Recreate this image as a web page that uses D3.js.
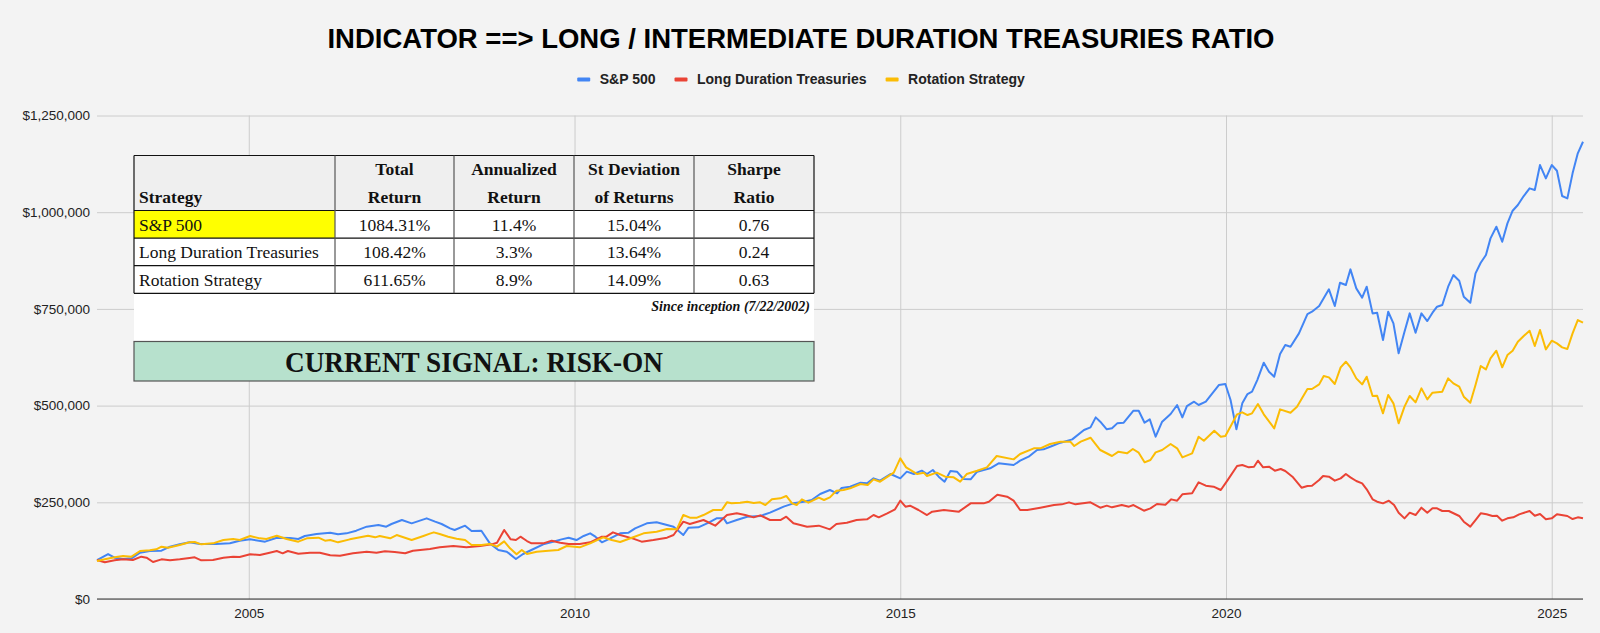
<!DOCTYPE html>
<html lang="en">
<head>
    <meta charset="UTF-8"/>
    <title>Long / Intermediate Duration Treasuries Ratio</title>
    <script src="https://d3js.org/d3.v7.min.js"></script>
    <style>
        body {
            margin: 0;
            background: #f3f3f3;
        }
    </style>
</head>
<body>
<svg id="chart" width="1600" height="633"></svg>

<script>
    const sans = "'Liberation Sans', Arial, sans-serif";
    const serif = "'Liberation Serif', 'Times New Roman', serif";

    const seriesNames = ["S&P 500", "Long Duration Treasuries", "Rotation Strategy"];
    const seriesColors = ["#4285f4", "#ea4335", "#fbbc04"];

    // [year, portfolio value in $ thousands]
    const sp500 = [
        [2002.67, 100.8], [2002.84, 116.3], [2002.94, 106.8], [2003.07, 103.4], [2003.20, 105.1], [2003.33, 119.8],
        [2003.48, 124.1], [2003.66, 124.9], [2003.79, 135.3], [2003.94, 141.3], [2004.09, 146.5], [2004.25, 142.2],
        [2004.50, 142.2], [2004.71, 143.9], [2004.86, 150.8], [2005.02, 154.2], [2005.25, 148.2], [2005.43, 158.5],
        [2005.63, 157.7], [2005.76, 155.1], [2005.86, 162.9], [2006.04, 168.0], [2006.25, 171.5], [2006.37, 167.2],
        [2006.50, 169.7], [2006.65, 176.6], [2006.81, 187.0], [2006.99, 191.3], [2007.11, 187.0], [2007.19, 193.9],
        [2007.35, 204.2], [2007.50, 195.6], [2007.73, 208.5], [2007.86, 199.9], [2007.96, 193.9], [2008.09, 182.7],
        [2008.16, 178.4], [2008.32, 189.6], [2008.42, 175.8], [2008.57, 176.6], [2008.70, 143.9], [2008.83, 126.7],
        [2008.96, 122.4], [2009.10, 103.4], [2009.21, 116.3], [2009.37, 129.3], [2009.52, 141.3], [2009.67, 148.2],
        [2009.80, 154.2], [2009.91, 158.5], [2010.03, 152.5], [2010.14, 162.9], [2010.24, 169.7], [2010.32, 161.1],
        [2010.42, 146.5], [2010.55, 156.8], [2010.70, 169.7], [2010.83, 171.5], [2010.93, 182.7], [2011.11, 195.6],
        [2011.26, 198.2], [2011.42, 191.3], [2011.52, 187.0], [2011.67, 165.4], [2011.75, 184.4], [2011.90, 185.3],
        [2012.06, 197.3], [2012.18, 208.5], [2012.29, 208.5], [2012.34, 195.6], [2012.49, 204.2], [2012.65, 212.8],
        [2012.85, 214.6], [2013.00, 223.2], [2013.21, 238.7], [2013.36, 247.3], [2013.52, 251.6], [2013.64, 255.9],
        [2013.77, 271.4], [2013.92, 281.8], [2014.03, 273.2], [2014.10, 286.9], [2014.23, 290.4], [2014.39, 300.7],
        [2014.49, 299.0], [2014.59, 311.9], [2014.69, 305.9], [2014.85, 323.1], [2015.00, 311.9], [2015.10, 329.2],
        [2015.21, 323.1], [2015.33, 331.7], [2015.41, 323.1], [2015.50, 333.5], [2015.59, 316.2], [2015.68, 303.3],
        [2015.77, 330.9], [2015.87, 329.2], [2015.97, 310.2], [2016.08, 309.3], [2016.18, 329.2], [2016.38, 337.8],
        [2016.51, 350.7], [2016.74, 346.4], [2016.84, 357.6], [2016.97, 367.9], [2017.10, 385.2], [2017.20, 386.9],
        [2017.33, 395.5], [2017.46, 404.1], [2017.64, 412.7], [2017.82, 436.9], [2017.92, 443.8], [2018.00, 469.6],
        [2018.07, 458.4], [2018.17, 438.6], [2018.25, 441.2], [2018.33, 454.1], [2018.43, 455.8], [2018.58, 486.8],
        [2018.66, 486.8], [2018.75, 455.8], [2018.83, 464.4], [2018.92, 419.6], [2019.02, 458.4], [2019.15, 478.2],
        [2019.25, 501.5], [2019.33, 469.6], [2019.40, 498.9], [2019.51, 510.1], [2019.58, 501.5], [2019.69, 510.1],
        [2019.79, 531.6], [2019.89, 553.2], [2019.99, 555.8], [2020.07, 514.4], [2020.16, 438.6], [2020.25, 505.8],
        [2020.33, 529.9], [2020.40, 535.9], [2020.48, 566.1], [2020.58, 610.9], [2020.66, 587.7], [2020.74, 574.7],
        [2020.83, 633.3], [2020.91, 656.6], [2020.99, 652.3], [2021.12, 686.8], [2021.25, 736.7], [2021.32, 742.7],
        [2021.43, 757.4], [2021.58, 800.5], [2021.67, 757.4], [2021.75, 817.7], [2021.84, 811.7], [2021.91, 852.2],
        [2022.00, 803.1], [2022.09, 779.0], [2022.16, 807.4], [2022.25, 738.4], [2022.32, 740.2], [2022.41, 669.5],
        [2022.49, 742.7], [2022.57, 712.6], [2022.65, 635.1], [2022.74, 691.1], [2022.82, 738.4], [2022.91, 688.5],
        [2023.00, 738.4], [2023.09, 718.6], [2023.17, 740.2], [2023.24, 755.7], [2023.32, 760.0], [2023.41, 807.4],
        [2023.49, 837.5], [2023.58, 822.9], [2023.65, 781.5], [2023.75, 766.0], [2023.83, 841.9], [2023.91, 869.4],
        [2023.99, 889.2], [2024.06, 932.3], [2024.15, 962.5], [2024.24, 923.7], [2024.32, 971.1], [2024.40, 1003.8],
        [2024.48, 1018.5], [2024.57, 1041.8], [2024.66, 1061.6], [2024.74, 1057.3], [2024.82, 1121.9], [2024.91, 1087.4],
        [2025.00, 1121.9], [2025.08, 1107.2], [2025.16, 1041.8], [2025.24, 1035.7], [2025.32, 1100.4], [2025.40, 1152.1],
        [2025.48, 1182.2]
    ];

    const longTreasuries = [
        [2002.67, 100.8], [2002.79, 94.8], [2002.94, 100.0], [2003.07, 102.5], [2003.22, 100.8], [2003.35, 109.4],
        [2003.43, 106.8], [2003.53, 95.6], [2003.66, 102.5], [2003.79, 100.0], [2003.94, 102.5], [2004.09, 106.0],
        [2004.17, 107.7], [2004.27, 100.0], [2004.45, 100.8], [2004.61, 106.8], [2004.76, 109.4], [2004.86, 108.6],
        [2005.02, 115.5], [2005.17, 113.7], [2005.32, 119.8], [2005.43, 124.1], [2005.52, 118.1], [2005.60, 124.1],
        [2005.76, 117.2], [2005.94, 119.8], [2006.09, 119.8], [2006.25, 112.9], [2006.40, 112.0], [2006.60, 118.1],
        [2006.81, 122.4], [2006.96, 119.8], [2007.09, 123.2], [2007.24, 121.5], [2007.40, 118.1], [2007.52, 124.9],
        [2007.78, 129.3], [2007.93, 133.6], [2008.14, 137.0], [2008.34, 133.6], [2008.55, 137.0], [2008.73, 141.3],
        [2008.81, 145.6], [2008.92, 178.4], [2009.02, 154.2], [2009.10, 152.5], [2009.17, 161.1], [2009.27, 149.9],
        [2009.34, 143.9], [2009.52, 143.9], [2009.65, 150.8], [2009.78, 145.6], [2009.91, 142.2], [2010.08, 142.2],
        [2010.24, 146.5], [2010.42, 161.1], [2010.49, 161.1], [2010.59, 172.3], [2010.70, 165.4], [2010.90, 156.0],
        [2011.03, 148.2], [2011.21, 152.5], [2011.42, 158.5], [2011.52, 165.4], [2011.67, 199.9], [2011.77, 193.9],
        [2011.98, 204.2], [2012.16, 189.6], [2012.34, 217.1], [2012.49, 221.5], [2012.62, 217.1], [2012.75, 211.1],
        [2012.85, 216.3], [2013.00, 204.2], [2013.16, 204.2], [2013.25, 212.8], [2013.36, 195.6], [2013.57, 187.0],
        [2013.75, 189.6], [2013.92, 180.1], [2014.02, 193.9], [2014.18, 197.3], [2014.33, 204.2], [2014.49, 205.9],
        [2014.59, 217.1], [2014.67, 211.1], [2014.80, 221.5], [2014.92, 231.8], [2015.00, 254.2], [2015.08, 238.7],
        [2015.15, 241.3], [2015.28, 230.1], [2015.41, 217.1], [2015.49, 225.8], [2015.67, 230.1], [2015.90, 225.8],
        [2016.08, 247.3], [2016.28, 247.3], [2016.36, 251.6], [2016.49, 269.7], [2016.64, 264.5], [2016.74, 254.2],
        [2016.84, 230.1], [2016.95, 230.1], [2017.15, 236.1], [2017.36, 243.0], [2017.48, 244.7], [2017.59, 249.9],
        [2017.69, 244.7], [2017.92, 249.9], [2018.07, 236.1], [2018.17, 241.3], [2018.25, 237.0], [2018.40, 243.0],
        [2018.51, 238.7], [2018.58, 243.0], [2018.74, 228.3], [2018.84, 234.4], [2018.94, 245.6], [2019.07, 243.8],
        [2019.16, 257.6], [2019.25, 254.2], [2019.33, 270.6], [2019.48, 273.2], [2019.58, 301.6], [2019.69, 293.0],
        [2019.81, 290.4], [2019.92, 281.8], [2020.02, 305.9], [2020.17, 343.8], [2020.25, 346.4], [2020.35, 340.4],
        [2020.43, 342.1], [2020.49, 357.6], [2020.57, 340.4], [2020.66, 342.1], [2020.75, 331.7], [2020.84, 336.1],
        [2020.91, 330.9], [2021.02, 316.2], [2021.16, 287.8], [2021.25, 292.1], [2021.32, 293.0], [2021.43, 307.6],
        [2021.49, 318.0], [2021.58, 316.2], [2021.67, 305.9], [2021.76, 311.9], [2021.84, 323.1], [2021.91, 314.5],
        [2022.00, 305.0], [2022.09, 299.0], [2022.16, 283.5], [2022.25, 257.6], [2022.32, 251.6], [2022.41, 247.3],
        [2022.50, 254.2], [2022.58, 243.0], [2022.65, 223.2], [2022.74, 208.5], [2022.82, 223.2], [2022.91, 217.1],
        [2023.00, 236.1], [2023.09, 223.2], [2023.17, 234.4], [2023.24, 234.4], [2023.32, 227.5], [2023.42, 227.5],
        [2023.58, 214.6], [2023.65, 199.9], [2023.75, 187.0], [2023.83, 204.2], [2023.91, 221.5], [2024.00, 218.9],
        [2024.09, 214.6], [2024.16, 215.4], [2024.24, 202.5], [2024.32, 208.5], [2024.41, 211.1], [2024.50, 218.9],
        [2024.66, 227.5], [2024.74, 215.4], [2024.82, 219.7], [2024.91, 205.9], [2025.00, 208.5], [2025.08, 218.9],
        [2025.24, 214.6], [2025.32, 206.8], [2025.40, 211.1], [2025.48, 208.5]
    ];

    const rotation = [
        [2002.67, 98.2], [2002.79, 102.5], [2002.94, 107.7], [2003.07, 111.2], [2003.20, 109.4], [2003.33, 124.1],
        [2003.48, 125.8], [2003.58, 128.4], [2003.66, 135.3], [2003.76, 132.7], [2003.94, 139.6], [2004.09, 146.5],
        [2004.17, 147.3], [2004.27, 141.3], [2004.45, 143.9], [2004.61, 152.5], [2004.76, 155.1], [2004.86, 152.5],
        [2005.02, 162.9], [2005.17, 156.8], [2005.27, 155.1], [2005.43, 163.7], [2005.58, 155.1], [2005.76, 148.2],
        [2005.89, 156.8], [2006.07, 158.5], [2006.17, 150.8], [2006.25, 152.5], [2006.37, 146.5], [2006.55, 154.2],
        [2006.71, 159.4], [2006.83, 163.7], [2006.94, 159.4], [2007.01, 162.9], [2007.17, 156.8], [2007.27, 165.4],
        [2007.50, 152.5], [2007.68, 162.9], [2007.78, 168.9], [2007.84, 172.3], [2007.93, 168.0], [2008.06, 161.1],
        [2008.19, 156.0], [2008.32, 152.5], [2008.42, 139.6], [2008.57, 139.6], [2008.70, 142.2], [2008.81, 135.3],
        [2008.92, 149.1], [2009.01, 131.0], [2009.11, 115.5], [2009.19, 126.7], [2009.27, 116.3], [2009.42, 122.4],
        [2009.60, 124.9], [2009.75, 126.7], [2009.88, 137.0], [2010.08, 133.6], [2010.24, 143.9], [2010.44, 159.4],
        [2010.57, 152.5], [2010.70, 147.3], [2010.88, 158.5], [2011.06, 169.7], [2011.26, 174.1], [2011.42, 181.0],
        [2011.57, 180.1], [2011.67, 217.1], [2011.77, 210.2], [2011.88, 210.2], [2011.98, 217.1], [2012.13, 230.1],
        [2012.26, 230.1], [2012.34, 249.9], [2012.41, 247.3], [2012.54, 249.0], [2012.65, 251.6], [2012.75, 248.2],
        [2012.85, 249.9], [2012.93, 243.0], [2013.03, 257.6], [2013.16, 260.2], [2013.25, 266.3], [2013.34, 247.3],
        [2013.41, 243.0], [2013.49, 257.6], [2013.59, 249.0], [2013.75, 261.9], [2013.83, 255.9], [2013.92, 262.8],
        [2014.02, 280.0], [2014.13, 281.8], [2014.23, 286.1], [2014.39, 297.3], [2014.50, 294.7], [2014.59, 309.3],
        [2014.69, 303.3], [2014.90, 326.6], [2015.00, 363.6], [2015.09, 340.4], [2015.26, 323.1], [2015.36, 326.6],
        [2015.41, 318.0], [2015.56, 326.6], [2015.69, 316.2], [2015.82, 314.5], [2015.92, 303.3], [2016.02, 323.1],
        [2016.18, 331.7], [2016.33, 340.4], [2016.48, 369.7], [2016.74, 361.0], [2016.84, 374.8], [2017.05, 389.5],
        [2017.15, 389.5], [2017.30, 400.7], [2017.46, 406.7], [2017.61, 406.7], [2017.67, 395.5], [2017.77, 406.7],
        [2017.92, 417.0], [2018.07, 385.2], [2018.25, 369.7], [2018.35, 380.9], [2018.48, 376.6], [2018.57, 387.8],
        [2018.66, 378.3], [2018.75, 353.3], [2018.84, 359.3], [2018.92, 379.1], [2019.02, 385.2], [2019.15, 400.7],
        [2019.25, 389.5], [2019.33, 366.2], [2019.48, 376.6], [2019.58, 419.6], [2019.66, 409.3], [2019.82, 435.1],
        [2019.92, 419.6], [2019.99, 421.4], [2020.09, 452.4], [2020.17, 477.4], [2020.25, 482.5], [2020.33, 475.6],
        [2020.40, 480.0], [2020.49, 504.1], [2020.58, 477.4], [2020.74, 441.2], [2020.83, 490.3], [2020.99, 481.7],
        [2021.09, 497.2], [2021.25, 542.9], [2021.32, 542.9], [2021.43, 554.9], [2021.50, 576.5], [2021.58, 573.0],
        [2021.67, 555.8], [2021.76, 598.9], [2021.84, 613.5], [2021.91, 598.9], [2022.00, 570.4], [2022.09, 554.9],
        [2022.16, 574.7], [2022.25, 524.8], [2022.32, 525.6], [2022.41, 480.0], [2022.49, 527.3], [2022.57, 505.8],
        [2022.65, 454.1], [2022.74, 497.2], [2022.82, 524.8], [2022.91, 508.4], [2023.00, 544.6], [2023.09, 516.1],
        [2023.17, 533.4], [2023.32, 536.0], [2023.41, 570.4], [2023.49, 557.5], [2023.58, 548.9], [2023.65, 523.0],
        [2023.75, 507.5], [2023.83, 553.2], [2023.91, 602.3], [2023.99, 593.7], [2024.06, 622.1], [2024.15, 641.9],
        [2024.24, 598.9], [2024.32, 630.7], [2024.40, 641.9], [2024.48, 665.2], [2024.57, 679.9], [2024.66, 693.6],
        [2024.74, 654.0], [2024.82, 695.4], [2024.91, 645.4], [2025.00, 667.8], [2025.08, 660.9], [2025.16, 650.6],
        [2025.24, 646.3], [2025.32, 686.8], [2025.40, 721.2], [2025.48, 714.3]
    ];

    const yTicks = [0, 250, 500, 750, 1000, 1250];
    const xTicks = [2005, 2010, 2015, 2020, 2025];

    const tableHeader = [["Strategy"], ["Total", "Return"], ["Annualized", "Return"], ["St Deviation", "of Returns"], ["Sharpe", "Ratio"]];
    const tableRows = [
        ["S&P 500", "1084.31%", "11.4%", "15.04%", "0.76"],
        ["Long Duration Treasuries", "108.42%", "3.3%", "13.64%", "0.24"],
        ["Rotation Strategy", "611.65%", "8.9%", "14.09%", "0.63"]
    ];
    const tableNote = "Since inception (7/22/2002)";
    const signalText = "CURRENT SIGNAL: RISK-ON";

    const plot = {left: 97, right: 1583, top: 115.5, bottom: 599};
    const svg = d3.select("#chart");

    // Title
    svg.append("text")
        .attr("x", 801)
        .attr("y", 48)
        .attr("text-anchor", "middle")
        .style("font-family", sans)
        .style("font-size", "27.5px")
        .style("font-weight", "bold")
        .text("INDICATOR ==> LONG / INTERMEDIATE DURATION TREASURIES RATIO");

    // Legend
    const legend = svg.append("g")
        .style("font-family", sans)
        .style("font-size", "14px")
        .style("font-weight", "bold");
    let lx = 0;
    seriesNames.forEach((name, i) => {
        const item = legend.append("g").attr("transform", `translate(${lx},0)`);
        item.append("rect")
            .attr("x", 0).attr("y", -2)
            .attr("width", 13).attr("height", 4).attr("rx", 1)
            .attr("fill", seriesColors[i]);
        const t = item.append("text")
            .attr("x", 22.5)
            .attr("dy", "0.35em")
            .attr("fill", "#222")
            .text(name);
        lx += 22.5 + t.node().getComputedTextLength() + 19;
    });
    legend.attr("transform", `translate(${801 - (lx - 19) / 2}, 79.5)`);

    // Scales
    const xScale = d3.scaleLinear()
        .domain([sp500[0][0], sp500[sp500.length - 1][0]])
        .range([plot.left, plot.right]);
    const yScale = d3.scaleLinear()
        .domain([0, 1250])
        .range([plot.bottom, plot.top]);

    // Y axis + horizontal gridlines
    const yAxis = svg.append("g")
        .attr("transform", `translate(${plot.left},0)`)
        .call(d3.axisLeft(yScale)
            .tickValues(yTicks)
            .tickSize(-(plot.right - plot.left))
            .tickPadding(7)
            .tickFormat(d => "$" + d3.format(",")(d * 1000)));
    yAxis.select(".domain").remove();
    yAxis.selectAll("line").attr("stroke", "#cccccc");
    yAxis.attr("font-family", sans).attr("font-size", 13.5);
    yAxis.selectAll("text").attr("fill", "#222");

    // X axis + vertical gridlines
    const xAxis = svg.append("g")
        .attr("transform", `translate(0,${plot.bottom})`)
        .call(d3.axisBottom(xScale)
            .tickValues(xTicks)
            .tickSize(-(plot.bottom - plot.top))
            .tickPadding(9)
            .tickFormat(d3.format("d")));
    xAxis.select(".domain").remove();
    xAxis.selectAll("line").attr("stroke", "#cccccc");
    xAxis.attr("font-family", sans).attr("font-size", 13.5);
    xAxis.selectAll("text").attr("fill", "#222");

    // Stats table (image pasted on the chart)
    const tbl = svg.append("g").style("font-family", serif);
    const colW = [201, 119, 120, 120, 120];
    const colX = [134];
    colW.forEach(w => colX.push(colX[colX.length - 1] + w));
    const tblTop = 155.5, headH = 55, rowH = 27.6;
    const rowY = [tblTop, tblTop + headH];
    tableRows.forEach(() => rowY.push(rowY[rowY.length - 1] + rowH));
    const tblLeft = colX[0], tblRight = colX[colX.length - 1];
    const boxTop = 341.5, boxBottom = 381;

    tbl.append("rect")
        .attr("x", tblLeft).attr("y", tblTop)
        .attr("width", tblRight - tblLeft).attr("height", boxBottom - tblTop)
        .attr("fill", "#ffffff");
    tbl.append("rect")
        .attr("x", tblLeft).attr("y", rowY[0])
        .attr("width", tblRight - tblLeft).attr("height", headH)
        .attr("fill", "#efefef");
    tbl.append("rect")
        .attr("x", colX[0]).attr("y", rowY[1])
        .attr("width", colW[0]).attr("height", rowH)
        .attr("fill", "#ffff00");

    // cell borders
    rowY.forEach(yy => {
        tbl.append("line")
            .attr("x1", tblLeft).attr("x2", tblRight)
            .attr("y1", yy).attr("y2", yy)
            .attr("stroke", "#111").attr("stroke-width", 1.2);
    });
    colX.forEach((xx, i) => {
        tbl.append("line")
            .attr("x1", xx).attr("x2", xx)
            .attr("y1", rowY[0]).attr("y2", rowY[rowY.length - 1])
            .attr("stroke", (i === 0 || i === colX.length - 1) ? "#111" : "#555")
            .attr("stroke-width", 1.2);
    });

    // header texts
    tableHeader.forEach((lines, c) => {
        const cx = c === 0 ? colX[0] + 5 : (colX[c] + colX[c + 1]) / 2;
        lines.forEach((line, k) => {
            tbl.append("text")
                .attr("x", cx)
                .attr("y", rowY[1] - 7.5 - (lines.length - 1 - k) * 27.6)
                .attr("text-anchor", c === 0 ? "start" : "middle")
                .style("font-size", "17.5px")
                .style("font-weight", "bold")
                .attr("fill", "#111")
                .text(line);
        });
    });

    // body texts
    tableRows.forEach((row, r) => {
        row.forEach((cell, c) => {
            tbl.append("text")
                .attr("x", c === 0 ? colX[0] + 5 : (colX[c] + colX[c + 1]) / 2)
                .attr("y", rowY[r + 2] - 7.5)
                .attr("text-anchor", c === 0 ? "start" : "middle")
                .style("font-size", "17.5px")
                .attr("fill", "#111")
                .text(cell);
        });
    });

    tbl.append("text")
        .attr("x", tblRight - 4)
        .attr("y", rowY[rowY.length - 1] + 17.5)
        .attr("text-anchor", "end")
        .style("font-size", "14px")
        .style("font-weight", "bold")
        .style("font-style", "italic")
        .attr("fill", "#111")
        .text(tableNote);

    tbl.append("rect")
        .attr("x", tblLeft).attr("y", boxTop)
        .attr("width", tblRight - tblLeft).attr("height", boxBottom - boxTop)
        .attr("fill", "#b7e1cd")
        .attr("stroke", "#555").attr("stroke-width", 1.2);
    tbl.append("text")
        .attr("x", (tblLeft + tblRight) / 2)
        .attr("y", 371.5)
        .attr("text-anchor", "middle")
        .attr("textLength", 378)
        .attr("lengthAdjust", "spacingAndGlyphs")
        .style("font-size", "29px")
        .style("font-weight", "bold")
        .attr("fill", "#111")
        .text(signalText);

    // Series lines
    const line = d3.line()
        .x(d => xScale(d[0]))
        .y(d => yScale(d[1]));
    [sp500, longTreasuries, rotation].forEach((series, i) => {
        svg.append("path")
            .attr("d", line(series))
            .attr("fill", "none")
            .attr("stroke", seriesColors[i])
            .attr("stroke-width", 2)
            .attr("stroke-linejoin", "round");
    });

    // Baseline at $0
    svg.append("line")
        .attr("x1", plot.left).attr("x2", plot.right)
        .attr("y1", yScale(0)).attr("y2", yScale(0))
        .attr("stroke", "#333")
        .attr("stroke-width", 1.2);
</script>
</body>
</html>
